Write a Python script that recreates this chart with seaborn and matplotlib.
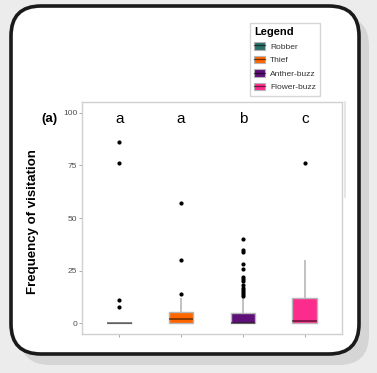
import numpy as np
import pandas as pd
import seaborn as sns
import matplotlib
matplotlib.use("Agg")
import matplotlib.pyplot as plt
from matplotlib.patches import FancyBboxPatch, Patch
from matplotlib.lines import Line2D
from matplotlib.legend_handler import HandlerTuple

# ---- data ----
categories = ["Robber", "Thief", "Anther-buzz", "Flower-buzz"]
robber = [0] * 26 + [8, 11, 76, 86]
thief = [0, 0, 0, 0, 0, 0, 0, 0, 1, 1, 1, 2, 2, 2, 3, 3, 4, 4, 5, 5, 6, 8, 10, 12, 14, 30, 57]
anther_buzz = ([0] * 45 + [1, 1, 1, 1, 2, 2, 2, 3, 3, 3, 4, 4, 4, 5, 5, 5, 6, 7, 8, 10, 12]
               + [13, 14, 15, 16, 17, 18, 20, 21, 22, 26, 28, 34, 35, 40])
flower_buzz = [0, 0, 0, 0, 0, 0, 0, 0, 1, 1, 1, 2, 4, 6, 9, 12, 15, 20, 25, 30, 76]
letters = ["a", "a", "b", "c"]
colors = ["#2b6f68", "#ff6600", "#5e0f78", "#fb2c8c"]
yticks = [0, 25, 50, 75, 100]

series = [robber, thief, anther_buzz, flower_buzz]
df = pd.DataFrame({
    "group": np.concatenate([[c] * len(s) for c, s in zip(categories, series)]),
    "freq": np.concatenate([np.asarray(s, dtype=float) for s in series]),
})

W, H = 377, 373
fig = plt.figure(figsize=(W / 100, H / 100), dpi=100)
fig.patch.set_facecolor("#ececec")

# background card
bg = fig.add_axes([0, 0, 1, 1])
bg.set_xlim(0, W)
bg.set_ylim(H, 0)
bg.axis("off")
bg.add_patch(FancyBboxPatch((20, 16), 349, 349, boxstyle="round,pad=0,rounding_size=30",
                            facecolor="#d5d5d5", edgecolor="none"))
bg.add_patch(FancyBboxPatch((11, 6), 348, 348, boxstyle="round,pad=0,rounding_size=30",
                            facecolor="white", edgecolor="#1a1a1a", linewidth=2.6))
bg.plot([345, 345], [102, 197], color="#e2e2e2", lw=1.2)

ax = fig.add_axes([82 / W, 1 - 334 / H, 260 / W, 232 / H])
sns.boxplot(data=df, x="group", y="freq", hue="group", palette=colors, order=categories,
            hue_order=categories, width=0.4, legend=False, ax=ax, showcaps=False, dodge=False,
            saturation=1, linecolor="#b5b5b5", linewidth=1.0,
            medianprops=dict(color="black", alpha=0.55, linewidth=1.2),
            whiskerprops=dict(color="#bdbdbd", linewidth=1.3),
            flierprops=dict(marker="o", markersize=2.0, markerfacecolor="black",
                            markeredgecolor="black", linestyle="none"))

ax.set_xlim(-0.6, 3.6)
ax.set_ylim(-5, 105)
ax.set_yticks(yticks)
ax.set_yticklabels([str(t) for t in yticks], fontsize=6, color="#4d4d4d",
                   fontfamily="Liberation Sans")
ax.set_xticks(range(4))
ax.set_xticklabels([""] * 4)
ax.set_xlabel("")
ax.tick_params(axis="both", colors="#9a9a9a", length=2, width=0.6, pad=1.5)
ax.tick_params(axis="y", labelcolor="#4d4d4d")
for sp in ax.spines.values():
    sp.set_color("#d0d0d0")
    sp.set_linewidth(1.0)
ax.set_facecolor("white")

ax.set_ylabel("Frequency of visitation", fontsize=9.5, fontweight="bold",
              fontfamily="Liberation Sans", color="black")
ax.yaxis.set_label_coords(-0.165, 0.483)

for i, l in enumerate(letters):
    ax.text(i, 97, l, ha="center", va="center", fontsize=11, fontfamily="Liberation Sans")

fig.text(49 / W, 1 - 119 / H, "(a)", ha="center", va="center", fontsize=9.5,
         fontweight="bold", fontfamily="Liberation Sans")

handles = [(Patch(facecolor=c, edgecolor="#b5b5b5", linewidth=0.8),
            Line2D([], [], color="black", alpha=0.55, lw=0.9)) for c in colors]
leg = fig.legend(handles, categories, handler_map={tuple: HandlerTuple(ndivide=1)},
                 loc="upper left", bbox_to_anchor=(250 / W, 1 - 23 / H), borderaxespad=0,
                 title="Legend", frameon=True, fancybox=False, edgecolor="#cccccc",
                 prop={"family": "Liberation Sans", "size": 6.0}, labelcolor="#333333",
                 handlelength=1.3, handleheight=1.0, handletextpad=0.6,
                 labelspacing=0.6, borderpad=0.5, alignment="left")
leg.get_title().set_fontweight("bold")
leg.get_title().set_fontsize(8)
leg.get_title().set_fontfamily("Liberation Sans")
leg.get_frame().set_linewidth(1.0)

fig.savefig("out.png", dpi=100, facecolor=fig.get_facecolor())
